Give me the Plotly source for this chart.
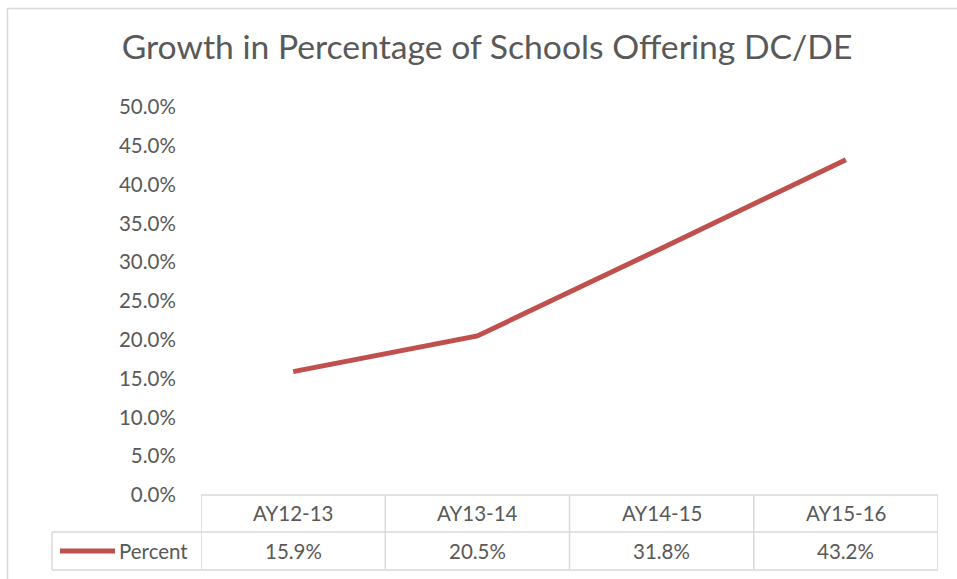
import plotly.graph_objects as go

categories = ["AY12-13", "AY13-14", "AY14-15", "AY15-16"]
percent = [0.159, 0.205, 0.318, 0.432]
series_name = "Percent"
title_text = "Growth in Percentage of Schools Offering DC/DE"

W, H = 957, 579
L, R, T, B = 201, 938, 107, 495  # plot area in pixels
PW, PH = R - L, B - T

def px(p):
    return (p - L) / PW

def py(p):
    return (B - p) / PH

TEXT = "#595959"
GRID = "#d9d9d9"
RED = "#C0504D"
FONT = "Lato"
FS = 20.5

fig = go.Figure()
fig.add_trace(go.Scatter(
    x=list(range(len(categories))), y=percent, mode="lines",
    line=dict(color=RED, width=5), showlegend=False, hoverinfo="skip"))

shapes = []
line = dict(color=GRID, width=1.5)
# chart border
shapes.append(dict(type="rect", xref="paper", yref="paper",
                   x0=px(7.5), x1=px(970), y0=py(8.5), y1=py(600),
                   line=dict(color=GRID, width=1.5), layer="below"))
# table horizontal lines
shapes.append(dict(type="line", xref="paper", yref="paper", x0=px(201), x1=px(938), y0=py(495), y1=py(495), line=line))
shapes.append(dict(type="line", xref="paper", yref="paper", x0=px(52), x1=px(938), y0=py(532), y1=py(532), line=line))
shapes.append(dict(type="line", xref="paper", yref="paper", x0=px(52), x1=px(938), y0=py(570), y1=py(570), line=line))
# vertical lines
for i in range(len(categories) + 1):
    shapes.append(dict(type="line", xref="x", yref="paper", x0=i - 0.5, x1=i - 0.5,
                       y0=py(495), y1=py(570), line=line))
shapes.append(dict(type="line", xref="paper", yref="paper", x0=px(52), x1=px(52), y0=py(532), y1=py(570), line=line))
# legend key
shapes.append(dict(type="line", xref="paper", yref="paper", x0=px(60), x1=px(115), y0=py(551), y1=py(551),
                   line=dict(color=RED, width=5)))

annotations = []
for i, (c, v) in enumerate(zip(categories, percent)):
    annotations.append(dict(x=i, y=py(513), xref="x", yref="paper", text=c, showarrow=False,
                            font=dict(family=FONT, size=FS, color=TEXT), xanchor="center", yanchor="middle"))
    annotations.append(dict(x=i, y=py(551), xref="x", yref="paper", text=f"{v:.1%}", showarrow=False,
                            font=dict(family=FONT, size=FS, color=TEXT), xanchor="center", yanchor="middle"))
annotations.append(dict(x=px(117), y=py(551), xref="paper", yref="paper", text=series_name, showarrow=False,
                        font=dict(family=FONT, size=FS, color=TEXT), xanchor="left", yanchor="middle"))

fig.update_layout(
    width=W, height=H,
    margin=dict(l=L, r=W - R, t=T, b=H - B),
    paper_bgcolor="white", plot_bgcolor="white",
    title=dict(text=title_text, x=487 / W, xanchor="center", xref="container",
               y=1 - 47 / H, yanchor="middle", yref="container",
               font=dict(family=FONT, size=33.7, color=TEXT)),
    xaxis=dict(range=[-0.5, len(categories) - 0.5], showticklabels=False, showgrid=False,
               zeroline=False, showline=False, fixedrange=True),
    yaxis=dict(range=[0, 0.5], dtick=0.05, tickformat=".1%", showgrid=False, zeroline=False,
               showline=False, ticks="outside", ticklen=20, tickcolor="rgba(0,0,0,0)",
               tickfont=dict(family=FONT, size=FS, color=TEXT), fixedrange=True),
    shapes=shapes, annotations=annotations,
)

fig.write_html("out.html")
